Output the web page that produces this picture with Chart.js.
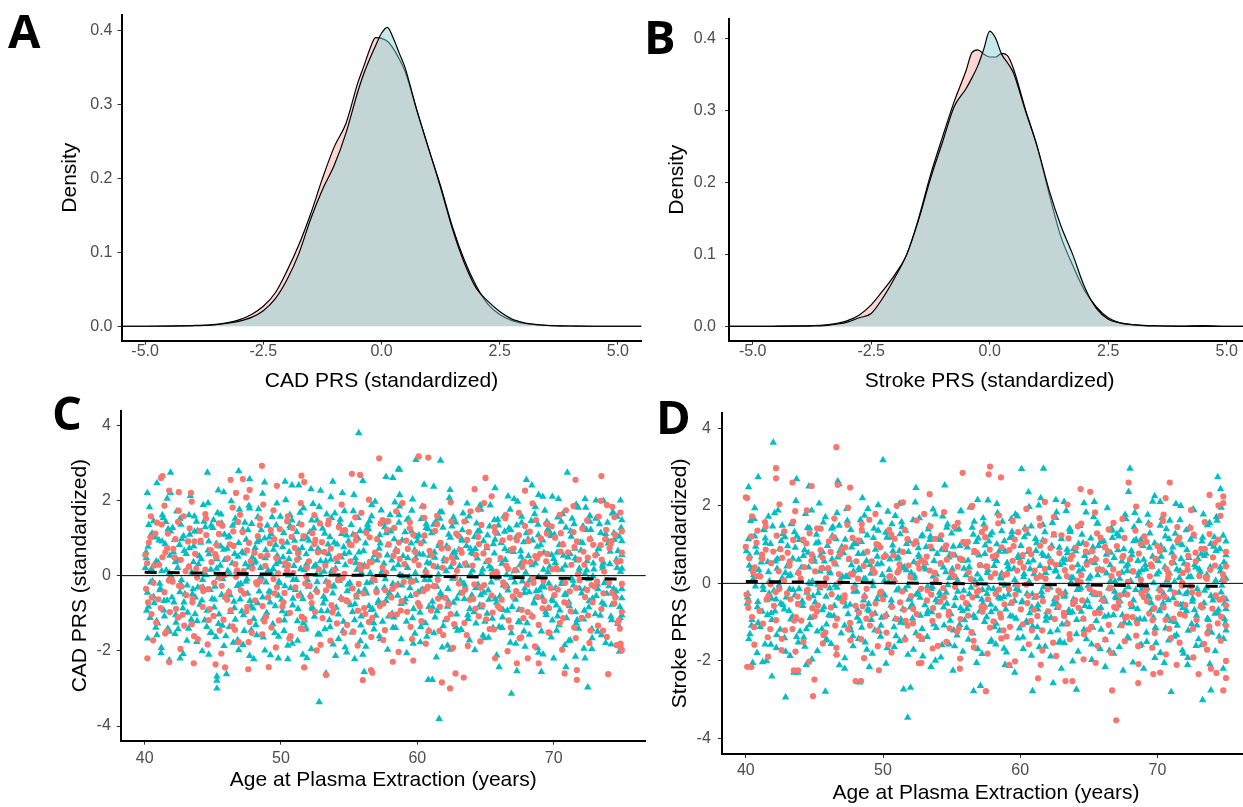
<!DOCTYPE html>
<html>
<head>
<meta charset="utf-8">
<title>PRS distributions and PRS by age</title>
<script src="https://cdn.jsdelivr.net/npm/chart.js@4.4.1/dist/chart.umd.min.js"></script>
<style>
  html, body { margin: 0; padding: 0; background: #fff; overflow: hidden; }
  body { width: 1243px; height: 807px; position: relative; }
  canvas { position: absolute; }
</style>
</head>
<body>
<canvas id="panel-a" width="650" height="395" style="left:0;top:0"></canvas>
<canvas id="panel-b" width="620" height="395" style="left:640px;top:0"></canvas>
<canvas id="panel-c" width="650" height="412" style="left:0;top:395px"></canvas>
<canvas id="panel-d" width="620" height="412" style="left:640px;top:395px"></canvas>
<script>
/* ============================================
   PRS distributions (A, B) and PRS vs age at plasma extraction (C, D)
   ============================================ */

const FONT = '"Liberation Sans", Arial, Helvetica, sans-serif';
const TICK_COLOR = '#4d4d4d';
const RED = '#F8766D';
const CYAN = '#00BFC4';

// --- Density curves (A, B): shared x grid, one density per group
const densX = [-5.5, -5, -4.5, -4, -3.75, -3.5, -3.25, -3, -2.75, -2.5, -2.25, -2, -1.75, -1.5, -1.25, -1, -0.75, -0.5, -0.375, -0.25, -0.125, 0, 0.125, 0.25, 0.375, 0.5, 0.75, 1, 1.25, 1.5, 1.75, 2, 2.25, 2.5, 2.75, 3, 3.25, 3.5, 3.75, 4, 4.5, 5, 5.5];
const cadCaseDens = [0, 0, 0.0003, 0.001, 0.0015, 0.0025, 0.005, 0.009, 0.016, 0.027, 0.045, 0.075, 0.11, 0.152, 0.2, 0.243, 0.275, 0.33, 0.352, 0.375, 0.391, 0.39, 0.386, 0.376, 0.362, 0.345, 0.292, 0.24, 0.19, 0.135, 0.09, 0.055, 0.03, 0.016, 0.008, 0.004, 0.002, 0.001, 0.0005, 0.0003, 0, 0, 0];
const cadCtrlDens = [0, 0, 0.0002, 0.0006, 0.001, 0.002, 0.004, 0.007, 0.012, 0.021, 0.037, 0.063, 0.098, 0.145, 0.185, 0.218, 0.262, 0.318, 0.342, 0.362, 0.38, 0.397, 0.405, 0.39, 0.37, 0.35, 0.292, 0.24, 0.188, 0.132, 0.086, 0.052, 0.034, 0.02, 0.01, 0.005, 0.0025, 0.0012, 0.0006, 0.0003, 0, 0, 0];
const strokeCaseDens = [0, 0, 0.0003, 0.0008, 0.0012, 0.002, 0.004, 0.008, 0.016, 0.03, 0.05, 0.072, 0.1, 0.15, 0.21, 0.262, 0.312, 0.355, 0.38, 0.384, 0.378, 0.374, 0.374, 0.379, 0.376, 0.358, 0.302, 0.25, 0.185, 0.125, 0.085, 0.05, 0.027, 0.012, 0.005, 0.0025, 0.0015, 0.001, 0.0006, 0.0005, 0.001, 0.0002, 0];
const strokeCtrlDens = [0, 0, 0.0001, 0.0003, 0.0006, 0.001, 0.003, 0.006, 0.012, 0.018, 0.04, 0.068, 0.1, 0.148, 0.205, 0.255, 0.305, 0.33, 0.345, 0.362, 0.385, 0.41, 0.4, 0.378, 0.366, 0.352, 0.3, 0.25, 0.19, 0.14, 0.1, 0.055, 0.025, 0.01, 0.005, 0.0025, 0.0012, 0.0006, 0.0003, 0.0001, 0, 0, 0];

// --- Linear trend of PRS on age (dashed line in C, D)
const trendAge = [40, 75];
const cadTrend = [0.09, -0.09];
const strokeTrend = [0.05, -0.08];

// --- Scatter points, stored as age, PRS, age, PRS, ...
const cadCtrlPts = [
  40.1,0.62, 40.2,-0.45, 40.3,1.35, 40.4,-1.12, 40.5,0.18, 40.7,-0.73, 40.8,1.02, 40.9,-1.58,
  41.0,0.35, 41.1,-0.21, 41.3,1.61, 41.4,-0.92, 41.5,0.84, 41.7,-1.41, 41.8,0.07, 41.9,1.18,
  42.0,-0.58, 42.2,0.95, 42.3,-1.25, 42.4,0.41, 42.6,1.52, 42.7,-0.12, 42.8,-0.87, 42.9,0.66,
  43.1,-1.73, 43.2,0.23, 43.3,1.09, 43.5,-0.49, 43.6,0.78, 43.7,-1.02, 43.8,1.44, 43.9,-0.31,
  44.0,0.52, 44.2,-0.66, 44.3,1.88, 44.4,-1.19, 44.5,0.02, 44.7,0.91, 44.8,-0.38, 44.9,-1.52,
  45.0,1.27, 45.1,-0.84, 45.3,0.44, 45.4,-0.05, 45.6,1.63, 45.7,-1.33, 45.8,0.69, 45.9,-0.57,
  46.1,0.13, 46.2,1.05, 46.3,-0.96, 46.5,-1.78, 46.6,0.58, 46.7,1.41, 46.8,-0.27, 46.9,0.87,
  47.0,-0.63, 47.2,1.22, 47.3,-1.47, 47.4,0.31, 47.5,-0.09, 47.7,1.79, 47.8,-0.81, 47.9,0.49,
  48.0,-1.15, 48.1,0.74, 48.3,1.56, 48.4,-0.42, 48.5,0.21, 48.7,-1.64, 48.8,0.99, 48.9,-0.18,
  49.0,1.33, 49.2,-0.71, 49.3,0.06, 49.4,-1.29, 49.6,0.82, 49.7,1.92, 49.8,-0.53, 49.9,0.37,
  50.1,-0.94, 50.2,1.14, 50.3,0.27, 50.5,-1.86, 50.6,0.63, 50.7,-0.33, 50.8,1.47, 50.9,-0.11,
  51.0,0.93, 51.2,-1.21, 51.3,0.48, 51.4,1.68, 51.6,-0.62, 51.7,0.15, 51.8,-1.43, 51.9,1.01,
  52.0,-0.29, 52.2,0.71, 52.3,-0.88, 52.4,1.26, 52.6,0.03, 52.7,-1.56, 52.8,1.83, 52.9,0.39,
  53.1,-0.74, 53.2,1.12, 53.3,-0.16, 53.5,0.57, 53.6,-1.37, 53.7,1.54, 53.8,-0.47, 53.9,0.88,
  54.0,0.19, 54.2,-1.03, 54.3,1.38, 54.4,-0.59, 54.6,0.76, 54.7,-1.91, 54.8,1.07, 54.9,-0.24,
  55.0,0.61, 55.1,-0.78, 55.3,1.72, 55.4,-1.18, 55.5,0.34, 55.7,-0.43, 55.8,1.19, 55.9,0.08,
  56.1,-1.51, 56.2,0.86, 56.3,-0.19, 56.5,1.45, 56.6,-0.91, 56.7,0.42, 56.8,-1.26, 56.9,1.97,
  57.0,-0.36, 57.2,0.72, 57.3,-1.69, 57.4,0.11, 57.6,1.29, 57.7,-0.67, 57.8,0.54, 57.9,-1.08,
  58.0,1.61, 58.2,-0.22, 58.3,0.97, 58.4,-1.39, 58.6,0.29, 58.7,1.84, 58.8,-0.75, 58.9,-0.02,
  59.1,1.16, 59.2,-1.22, 59.3,0.47, 59.5,-0.54, 59.6,1.73, 59.7,-1.81, 59.8,0.68, 59.9,-0.13,
  60.0,0.92, 60.2,-0.98, 60.3,1.51, 60.4,-0.37, 60.6,0.14, 60.7,-1.62, 60.8,1.24, 60.9,0.53,
  61.1,-0.69, 61.2,1.36, 61.3,-1.11, 61.5,0.22, 61.6,0.85, 61.7,-0.46, 61.8,1.69, 61.9,-1.34,
  62.0,0.38, 62.2,-0.82, 62.3,1.09, 62.4,-1.97, 62.6,0.59, 62.7,-0.07, 62.8,1.42, 62.9,-0.61,
  63.1,0.26, 63.2,-1.44, 63.3,1.21, 63.5,-0.28, 63.6,0.79, 63.7,-1.05, 63.8,1.58, 63.9,0.04,
  64.0,-0.52, 64.2,1.03, 64.3,-1.27, 64.4,0.46, 64.6,1.87, 64.7,-0.84, 64.8,0.17, 64.9,-1.66,
  65.1,0.73, 65.2,-0.39, 65.3,1.31, 65.5,-1.14, 65.6,0.09, 65.7,0.96, 65.8,-0.72, 65.9,1.49,
  66.0,-1.36, 66.2,0.32, 66.3,-0.26, 66.4,1.17, 66.6,-0.93, 66.7,0.65, 66.8,1.76, 66.9,-1.53,
  67.1,0.12, 67.2,-0.64, 67.3,1.34, 67.5,-1.24, 67.6,0.51, 67.7,-0.15, 67.8,0.89, 67.9,-1.89,
  68.0,1.13, 68.2,-0.44, 68.3,0.36, 68.4,-1.07, 68.6,1.64, 68.7,-0.58, 68.8,0.77, 68.9,-0.03,
  69.1,-1.48, 69.2,0.94, 69.3,-0.31, 69.5,1.43, 69.6,-0.86, 69.7,0.24, 69.8,1.06, 69.9,-1.19,
  70.0,0.45, 70.2,-0.79, 70.3,1.55, 70.4,-1.31, 70.6,0.16, 70.7,0.83, 70.8,-0.51, 70.9,1.28,
  71.1,-1.74, 71.2,0.58, 71.3,-0.08, 71.5,1.37, 71.6,-0.97, 71.7,0.41, 71.8,1.81, 71.9,-0.34,
  72.0,0.67, 72.2,-1.16, 72.3,0.05, 72.4,1.22, 72.6,-0.68, 72.7,0.98, 72.8,-1.42, 72.9,0.33,
  73.1,1.52, 73.2,-0.23, 73.3,0.71, 73.5,-1.58, 73.6,0.2, 73.7,-0.77, 73.8,1.11, 73.9,-0.48,
  74.0,0.86, 74.2,-1.09, 74.3,1.66, 74.4,-0.35, 74.6,0.43, 74.7,-1.28, 74.8,1.04, 74.9,0.1,
  75.0,-0.6, 75.0,1.48, 75.0,0.55, 75.0,-1.05,
  40.05,0.21, 40.15,-0.93, 40.25,0.77, 40.45,-0.18, 40.55,1.12, 40.65,-0.56, 40.85,0.38, 40.95,-1.27,
  41.05,0.94, 41.15,-0.34, 41.25,0.12, 41.45,-1.08, 41.55,1.43, 41.65,-0.66, 41.85,0.53, 41.95,-0.02,
  42.05,1.27, 42.15,-0.71, 42.25,0.36, 42.45,-1.42, 42.55,0.82, 42.65,-0.23, 42.85,1.05, 42.95,-0.49,
  43.05,0.58, 43.15,-0.98, 43.25,1.61, 43.45,0.09, 43.55,-0.36, 43.65,1.17, 43.85,-1.21, 43.95,0.31,
  44.05,-0.77, 44.15,0.44, 44.25,-0.11, 44.45,1.29, 44.55,-1.36, 44.65,0.67, 44.85,0.16, 44.95,-0.62,
  45.05,1.48, 45.15,-0.29, 45.25,0.85, 45.45,-1.03, 45.55,0.27, 45.65,-0.51, 45.85,1.09, 45.95,-1.61,
  46.05,0.72, 46.15,-0.43, 46.25,0.04, 46.45,1.33, 46.55,-0.69, 46.65,-1.17, 46.85,0.51, 46.95,1.76,
  47.05,-0.22, 47.15,0.63, 47.25,-1.05, 47.45,0.96, 47.55,-0.48, 47.65,0.22, 47.85,1.38, 47.95,-0.87,
  48.05,0.35, 48.15,-1.31, 48.25,0.89, 48.45,-0.07, 48.55,1.21, 48.65,-0.58, 48.85,0.47, 48.95,-0.99,
  49.05,0.14, 49.15,1.02, 49.25,-0.45, 49.45,0.69, 49.55,-1.52, 49.65,0.31, 49.85,-0.16, 49.95,1.57,
  50.05,-0.64, 50.15,0.49, 50.25,-1.19, 50.45,0.88, 50.55,0.01, 50.65,1.32, 50.85,-0.79, 50.95,0.26,
  51.05,-0.38, 51.15,1.16, 51.25,-0.88, 51.45,0.18, 51.55,0.74, 51.65,-1.27, 51.85,0.57, 51.95,-0.12,
  52.05,0.93, 52.15,-0.52, 52.25,1.47, 52.45,-1.09, 52.55,0.28, 52.65,-0.17, 52.85,0.64, 52.95,-0.94,
  53.05,1.25, 53.15,0.11, 53.25,-0.63, 53.45,0.83, 53.55,-1.18, 53.65,0.43, 53.85,-0.29, 53.95,1.66,
  54.05,-0.85, 54.15,0.37, 54.25,-0.04, 54.45,1.11, 54.55,-1.47, 54.65,0.58, 54.85,-0.41, 54.95,0.92,
  55.05,-0.19, 55.15,1.35, 55.25,-0.96, 55.45,0.47, 55.55,-0.58, 55.65,0.99, 55.85,-1.32, 55.95,0.24,
  56.05,0.66, 56.15,-0.37, 56.25,1.22, 56.45,-0.81, 56.55,0.07, 56.65,1.58, 56.85,-0.14, 56.95,-1.06,
  57.05,0.41, 57.15,-0.67, 57.25,1.08, 57.45,-1.22, 57.55,0.32, 57.65,-0.09, 57.85,0.81, 57.95,-0.46,
  58.05,1.18, 58.15,-1.01, 58.25,0.19, 58.45,0.63, 58.55,-0.53, 58.65,1.41, 58.85,-0.26, 58.95,0.52,
  59.05,-0.71, 59.15,0.28, 59.25,1.49, 59.45,-0.33, 59.55,0.86, 59.65,-1.13, 59.85,0.07, 59.95,1.04,
  60.05,-0.44, 60.15,0.57, 60.25,-1.36, 60.45,0.91, 60.55,-0.11, 60.65,1.27, 60.85,-0.83, 60.95,0.32,
  61.05,1.13, 61.15,-0.28, 61.25,0.62, 61.45,-0.94, 61.55,0.03, 61.65,1.52, 61.85,-0.57, 61.95,0.44,
  62.05,-1.18, 62.15,0.79, 62.25,-0.35, 62.45,0.23, 62.55,1.31, 62.65,-0.72, 62.85,0.48, 62.95,-1.46,
  63.05,0.69, 63.15,-0.13, 63.25,0.97, 63.45,-0.62, 63.55,1.46, 63.65,0.27, 63.85,-0.88, 63.95,0.61,
  64.05,0.14, 64.15,-0.97, 64.25,0.71, 64.45,-0.24, 64.55,1.19, 64.65,-0.51, 64.85,0.92, 64.95,-1.22,
  65.05,0.36, 65.15,1.07, 65.25,-0.64, 65.45,0.18, 65.55,-1.39, 65.65,0.59, 65.85,-0.07, 65.95,1.34,
  66.05,-0.55, 66.15,0.87, 66.25,-1.11, 66.45,0.42, 66.55,0.02, 66.65,-0.39, 66.85,1.21, 66.95,-0.83,
  67.05,0.63, 67.15,-0.18, 67.25,1.02, 67.45,-0.91, 67.55,0.29, 67.65,1.57, 67.85,-0.46, 67.95,0.08,
  68.05,-1.26, 68.15,0.52, 68.25,-0.12, 68.45,0.94, 68.55,-0.71, 68.65,0.33, 68.85,1.36, 68.95,-0.39,
  69.05,0.81, 69.15,-0.57, 69.25,0.16, 69.45,-1.04, 69.55,1.22, 69.65,-0.21, 69.85,0.55, 69.95,-0.68,
  70.05,1.09, 70.15,-0.33, 70.25,0.61, 70.45,-0.92, 70.55,1.44, 70.65,-0.14, 70.85,0.27, 70.95,-1.13,
  71.05,0.49, 71.15,-0.81, 71.25,1.18, 71.45,-0.26, 71.55,0.72, 71.65,-1.27, 71.85,0.11, 71.95,0.88,
  72.05,-0.47, 72.15,1.31, 72.25,-0.93, 72.45,0.39, 72.55,-0.09, 72.65,1.59, 72.85,-0.61, 72.95,0.17,
  73.05,-1.02, 73.15,0.58, 73.25,-0.36, 73.45,1.14, 73.55,-0.72, 73.65,0.35, 73.85,-0.15, 73.95,1.41,
  74.05,-0.28, 74.15,0.64, 74.25,-1.18, 74.45,0.96, 74.55,-0.54, 74.65,0.21, 74.85,-0.83, 74.95,1.27,
  75.0,0.19, 75.0,-0.35, 75.0,0.92,
  40.12,0.47, 40.28,-0.82, 40.42,1.06, 40.58,-0.15, 40.72,0.29, 40.88,-1.21,
  41.12,-0.38, 41.28,0.91, 41.42,-0.67, 41.58,0.14, 41.72,1.24, 41.88,-0.03,
  42.12,0.62, 42.28,-1.04, 42.42,0.21, 42.58,-0.44, 42.72,0.98, 42.88,-0.71,
  43.12,-0.26, 43.28,0.73, 43.42,-1.17, 43.58,0.36, 43.72,-0.58, 43.88,1.19,
  44.12,0.88, 44.28,-0.31, 44.42,0.05, 44.58,-0.93, 44.72,0.57, 44.88,1.33,
  45.12,-0.64, 45.28,0.19, 45.42,-1.28, 45.58,0.78, 45.72,-0.09, 45.88,0.42,
  46.12,1.02, 46.28,-0.52, 46.42,0.33, 46.58,-0.86, 46.72,0.11, 46.88,-0.24,
  47.12,-0.95, 47.28,0.59, 47.42,-0.16, 47.58,1.21, 47.72,-0.67, 47.88,0.26,
  48.12,0.39, 48.28,-0.73, 48.42,0.94, 48.58,-0.05, 48.72,-1.14, 48.88,0.68,
  49.12,-0.42, 49.28,1.11, 49.42,0.18, 49.58,-0.81, 49.72,0.53, 49.88,-0.19,
  50.12,0.76, 50.28,-0.28, 50.42,-1.02, 50.58,0.44, 50.72,1.27, 50.88,-0.61,
  51.12,-0.11, 51.28,0.67, 51.42,-0.49, 51.58,0.97, 51.72,-1.19, 51.88,0.31,
  52.12,1.16, 52.28,-0.83, 52.42,0.24, 52.58,-0.37, 52.72,0.71, 52.88,0.02,
  53.12,-0.56, 53.28,0.38, 53.42,-0.94, 53.58,1.03, 53.72,0.13, 53.88,-0.27,
  54.12,0.83, 54.28,-0.14, 54.42,0.49, 54.58,-1.22, 54.72,0.28, 54.88,-0.68,
  55.12,-0.35, 55.28,1.09, 55.42,-0.76, 55.58,0.16, 55.72,0.62, 55.88,-1.08,
  56.12,0.27, 56.28,-0.47, 56.42,1.24, 56.58,-0.18, 56.72,-0.89, 56.88,0.55,
  57.12,-0.73, 57.28,0.86, 57.42,0.09, 57.58,-0.32, 57.72,1.13, 57.88,-0.56,
  58.12,0.41, 58.28,-1.11, 58.42,0.69, 58.58,-0.23, 58.72,0.02, 58.88,0.94,
  59.12,-0.62, 59.28,0.21, 59.42,-0.04, 59.58,1.18, 59.72,-0.88, 59.88,0.47,
  60.12,1.07, 60.28,-0.39, 60.42,0.56, 60.58,-1.26, 60.72,0.35, 60.88,-0.12,
  61.12,-0.84, 61.28,0.48, 61.42,-0.29, 61.58,0.79, 61.72,-0.53, 61.88,1.28,
  62.12,0.12, 62.28,-0.69, 62.42,1.01, 62.58,-0.08, 62.72,0.63, 62.88,-1.03,
  63.12,-0.47, 63.28,0.93, 63.42,-0.21, 63.58,0.31, 63.72,-1.15, 63.88,0.72,
  64.12,0.58, 64.28,-0.33, 64.42,1.17, 64.58,-0.79, 64.72,0.07, 64.88,-0.45,
  65.12,-1.01, 65.28,0.25, 65.42,-0.18, 65.58,0.84, 65.72,-0.62, 65.88,1.12,
  66.12,0.43, 66.28,-0.91, 66.42,0.71, 66.58,-0.27, 66.72,1.26, 66.88,-0.06,
  67.12,-0.58, 67.28,0.14, 67.42,-1.23, 67.58,0.66, 67.72,0.38, 67.88,-0.34,
  68.12,0.97, 68.28,-0.12, 68.42,0.28, 68.58,-0.74, 68.72,-0.41, 68.88,1.08,
  69.12,-0.29, 69.28,0.61, 69.42,-0.97, 69.58,0.09, 69.72,1.15, 69.88,-0.63,
  70.12,0.34, 70.28,-1.08, 70.42,0.82, 70.58,-0.22, 70.72,0.53, 70.88,-0.49,
  71.12,-0.71, 71.28,1.04, 71.42,-0.13, 71.58,0.46, 71.72,-1.18, 71.88,0.19,
  72.12,0.87, 72.28,-0.36, 72.42,0.15, 72.58,-0.84, 72.72,1.22, 72.88,-0.02,
  73.12,-0.54, 73.28,0.72, 73.42,-1.06, 73.58,0.27, 73.72,-0.19, 73.88,0.98,
  74.12,0.31, 74.28,-0.77, 74.42,1.13, 74.58,-0.41, 74.72,0.66, 74.88,-1.12,
  40.35,1.82, 40.65,1.45, 40.22,-1.67, 40.82,-1.38, 41.35,1.53, 41.65,2.05, 41.22,-1.92, 41.82,-1.49,
  42.35,1.71, 42.65,1.36, 42.22,-1.55, 42.82,-2.08, 43.35,2.12, 43.65,1.58, 43.22,-1.41, 43.82,-1.76,
  44.35,1.44, 44.65,1.93, 44.22,-2.01, 44.82,-1.52, 45.35,1.67, 45.65,1.39, 45.22,-1.63, 45.82,-1.87,
  46.35,1.98, 46.65,1.52, 46.22,-1.36, 46.82,-1.71, 47.35,1.41, 47.65,1.86, 47.22,-1.84, 47.82,-1.45,
  48.35,1.77, 48.65,2.18, 48.22,-1.58, 48.82,-1.99, 49.35,1.56, 49.65,1.34, 49.22,-2.11, 49.82,-1.62,
  50.35,2.01, 50.65,1.62, 50.22,-1.47, 50.82,-1.81, 51.35,1.38, 51.65,1.79, 51.22,-1.73, 51.82,-1.39,
  52.35,1.91, 52.65,1.47, 52.22,-1.95, 52.82,-1.56, 53.35,1.63, 53.65,2.09, 53.22,-1.42, 53.82,-1.83,
  54.35,1.49, 54.65,1.72, 54.22,-1.68, 54.82,-2.04, 55.35,2.15, 55.65,1.54, 55.22,-1.51, 55.82,-1.74,
  56.35,1.36, 56.65,1.88, 56.22,-1.89, 56.82,-1.43, 57.35,1.74, 57.65,1.42, 57.22,-1.61, 57.82,-1.97,
  58.35,1.95, 58.65,1.61, 58.22,-1.38, 58.82,-1.69, 59.35,1.51, 59.65,2.03, 59.22,-2.06, 59.82,-1.54,
  60.35,1.84, 60.65,1.37, 60.22,-1.77, 60.82,-1.46, 61.35,1.43, 61.65,1.69, 61.22,-1.53, 61.82,-1.91,
  62.35,2.07, 62.65,1.55, 62.22,-1.86, 62.82,-1.37, 63.35,1.66, 63.65,1.92, 63.22,-1.44, 63.82,-1.72,
  64.35,1.39, 64.65,1.76, 64.22,-1.98, 64.82,-1.59, 65.35,1.87, 65.65,1.48, 65.22,-1.65, 65.82,-2.12,
  66.35,1.58, 66.65,2.11, 66.22,-1.39, 66.82,-1.78, 67.35,1.97, 67.65,1.41, 67.22,-1.81, 67.82,-1.48,
  68.35,1.46, 68.65,1.83, 68.22,-1.57, 68.82,-1.93, 69.35,1.73, 69.65,1.35, 69.22,-2.09, 69.82,-1.64,
  70.35,2.04, 70.65,1.64, 70.22,-1.46, 70.82,-1.85, 71.35,1.52, 71.65,1.89, 71.22,-1.72, 71.82,-1.41,
  72.35,1.81, 72.65,1.44, 72.22,-1.94, 72.82,-1.66, 73.35,1.37, 73.65,1.99, 73.22,-1.49, 73.82,-1.79,
  74.35,1.69, 74.65,1.57, 74.22,-1.83, 74.82,-2.02,
  55.7,3.79, 61.7,3.06, 59.9,3.08, 58.6,2.83, 58.7,2.82, 44.6,2.74, 41.9,2.74, 46.9,2.78,
  71.0,2.74, 68.0,2.55, 68.4,2.4, 57.7,2.63, 58.2,2.6, 40.9,2.46, 47.7,2.57, 50.3,2.5,
  50.8,2.4, 51.3,2.4, 56.0,2.52, 53.8,2.5, 40.2,2.2, 41.9,2.2, 45.4,2.27, 45.8,2.22,
  48.8,2.48, 52.2,2.3, 52.9,2.26, 54.5,2.2, 60.5,2.42, 61.2,2.37, 62.4,2.28, 58.7,2.15,
  65.7,2.33, 67.1,2.04, 68.9,2.15, 69.2,2.1, 69.9,2.1, 72.3,2.04, 73.1,2.0, 74.9,2.0,
  52.8,-3.36, 61.6,-3.81, 66.9,-3.14, 72.5,-2.97, 60.8,-2.77, 61.1,-2.77, 45.3,-3.0, 45.3,-2.79,
  45.3,-2.68, 46.0,-2.62, 53.3,-2.6, 66.0,-2.43, 67.3,-2.54, 69.1,-2.56, 70.9,-2.43, 41.2,-2.06,
  41.8,-2.25, 42.6,-2.2, 44.7,-2.1, 46.9,-1.98, 47.7,-2.13, 48.0,-2.22, 49.8,-2.2, 50.5,-2.22,
  51.6,-2.1, 51.9,-2.19, 54.0,-2.13, 55.4,-2.22, 56.0,-2.1, 56.1,-2.56, 61.4,-2.17, 68.9,-2.05,
  70.0,-2.2, 71.6,-2.15, 72.3,-2.2, 72.8,-1.95
];

const cadCasePts = [
  40.1,-0.35, 40.3,0.88, 40.5,-1.02, 40.7,0.27, 40.9,1.41,
  41.0,-0.63, 41.3,0.49, 41.5,-1.54, 41.7,1.12, 41.9,-0.08,
  42.1,0.71, 42.3,-0.88, 42.5,1.73, 42.7,-0.29, 42.9,-1.33,
  43.0,0.12, 43.3,1.26, 43.5,-0.71, 43.7,0.58, 43.9,-1.69,
  44.1,0.93, 44.3,-0.41, 44.5,1.52, 44.7,-1.18, 44.9,0.36,
  45.1,-0.19, 45.3,0.81, 45.5,-1.46, 45.7,1.33, 45.9,-0.57,
  46.1,0.46, 46.3,-0.92, 46.5,1.18, 46.7,-0.03, 46.9,-1.77,
  47.0,1.62, 47.3,-0.48, 47.5,0.67, 47.7,-1.23, 47.9,0.19,
  48.1,-0.66, 48.3,1.05, 48.5,-0.14, 48.7,1.89, 48.9,-1.09,
  49.0,0.54, 49.3,-1.38, 49.5,0.97, 49.7,-0.31, 49.9,1.24,
  50.1,-0.82, 50.3,0.33, 50.5,1.58, 50.7,-1.61, 50.9,0.07,
  51.0,0.74, 51.3,-0.53, 51.5,1.36, 51.7,-1.15, 51.9,0.21,
  52.1,-0.27, 52.3,1.13, 52.5,-0.96, 52.7,0.62, 52.9,-1.84,
  53.0,0.89, 53.3,-0.39, 53.5,1.47, 53.7,-0.78, 53.9,0.15,
  54.1,-1.27, 54.3,0.52, 54.5,-0.06, 54.7,1.21, 54.9,-0.69,
  55.1,0.38, 55.3,-1.49, 55.5,0.94, 55.7,-0.22, 55.9,1.67,
  56.1,-0.86, 56.3,0.25, 56.5,1.02, 56.7,-1.12, 56.9,0.61,
  57.0,-0.44, 57.3,1.39, 57.5,-1.71, 57.7,0.08, 57.9,0.83,
  58.1,-0.58, 58.3,1.27, 58.5,-1.03, 58.7,0.44, 58.9,1.93,
  59.0,-0.17, 59.3,0.71, 59.5,-1.36, 59.7,1.09, 59.9,-0.49,
  60.1,0.28, 60.3,-1.21, 60.5,1.54, 60.7,-0.34, 60.9,0.66,
  61.0,-0.93, 61.3,1.19, 61.5,-0.11, 61.7,0.87, 61.9,-1.58,
  62.1,0.42, 62.3,-0.76, 62.5,1.44, 62.7,-1.29, 62.9,0.13,
  63.0,1.06, 63.3,-0.45, 63.5,0.32, 63.7,-1.87, 63.9,1.71,
  64.1,-0.62, 64.3,0.55, 64.5,-1.08, 64.7,1.35, 64.9,-0.25,
  65.1,0.78, 65.3,-1.42, 65.5,0.04, 65.7,1.16, 65.9,-0.81,
  66.1,0.47, 66.3,-0.18, 66.5,1.61, 66.7,-1.19, 66.9,0.69,
  67.0,-0.55, 67.3,0.94, 67.5,-1.67, 67.7,0.23, 67.9,1.32,
  68.1,-0.97, 68.3,0.36, 68.5,-0.08, 68.7,1.48, 68.9,-1.31,
  69.0,0.58, 69.3,-0.68, 69.5,1.12, 69.7,-1.52, 69.9,0.17,
  70.1,1.01, 70.3,-0.37, 70.5,0.64, 70.7,-1.13, 70.9,1.74,
  71.0,-0.74, 71.3,0.29, 71.5,-1.38, 71.7,0.91, 71.9,-0.12,
  72.1,1.25, 72.3,-0.57, 72.5,0.48, 72.7,-1.46, 72.9,0.82,
  73.0,-0.29, 73.3,1.57, 73.5,-0.89, 73.7,0.11, 73.9,-1.63,
  74.1,0.73, 74.3,-0.46, 74.5,1.09, 74.7,-1.24, 74.9,0.39,
  75.0,-0.96, 75.0,0.61,
  40.05,0.55, 40.25,-0.71, 40.45,1.02, 40.65,-0.19, 40.85,-1.25,
  41.05,0.29, 41.25,1.36, 41.45,-0.44, 41.65,0.73, 41.85,-0.97,
  42.05,-0.16, 42.25,0.97, 42.45,-1.11, 42.65,0.42, 42.85,1.58,
  43.05,-0.52, 43.25,0.24, 43.45,-1.29, 43.65,0.91, 43.85,-0.05,
  44.05,1.19, 44.25,-0.83, 44.45,0.16, 44.65,-0.36, 44.85,0.68,
  45.05,-1.07, 45.25,0.49, 45.45,1.11, 45.65,-0.27, 45.85,0.02,
  46.05,-0.64, 46.25,0.83, 46.45,-1.35, 46.65,0.31, 46.85,1.43,
  47.05,-0.39, 47.25,0.12, 47.45,-0.95, 47.65,0.87, 47.85,-1.52,
  48.05,0.61, 48.25,-0.23, 48.45,1.34, 48.65,-0.81, 48.85,0.26,
  49.05,-0.58, 49.25,1.21, 49.45,-0.09, 49.65,0.47, 49.85,-1.19,
  50.05,0.91, 50.25,-0.46, 50.45,0.14, 50.65,-0.99, 50.85,1.27,
  51.05,-0.31, 51.25,0.59, 51.45,-1.41, 51.65,1.05, 51.85,-0.02,
  52.05,0.38, 52.25,-0.73, 52.45,0.84, 52.65,-0.43, 52.85,1.39,
  53.05,-1.13, 53.25,0.27, 53.45,-0.18, 53.65,0.72, 53.85,-0.89,
  54.05,0.46, 54.25,1.29, 54.45,-0.62, 54.65,0.05, 54.85,-1.31,
  55.05,0.83, 55.25,-0.34, 55.45,1.08, 55.65,-0.93, 55.85,0.17,
  56.05,-0.47, 56.25,1.14, 56.45,-1.23, 56.65,0.36, 56.85,-0.12,
  57.05,0.97, 57.25,-0.81, 57.45,0.22, 57.65,-0.39, 57.85,1.45,
  58.05,-1.04, 58.25,0.53, 58.45,-0.26, 58.65,0.88, 58.85,-0.68,
  59.05,0.31, 59.25,-0.96, 59.45,1.26, 59.65,-0.15, 59.85,0.63,
  60.05,-0.73, 60.25,0.86, 60.45,-0.41, 60.65,0.09, 60.85,-1.47,
  61.05,0.54, 61.25,-0.28, 61.45,1.37, 61.65,-0.83, 61.85,0.21,
  62.05,-0.59, 62.25,0.73, 62.45,-1.02, 62.65,0.34, 62.85,1.12,
  63.05,-0.21, 63.25,0.61, 63.45,-1.26, 63.65,0.95, 63.85,-0.64,
  64.05,0.27, 64.25,-0.88, 64.45,1.03, 64.65,-0.32, 64.85,0.59,
  65.05,-1.16, 65.25,0.41, 65.45,-0.53, 65.65,1.29, 65.85,0.06,
  66.05,-0.87, 66.25,0.94, 66.45,-0.29, 66.65,0.18, 66.85,-1.38,
  67.05,0.72, 67.25,-0.41, 67.45,1.08, 67.65,-0.91, 67.85,0.37,
  68.05,-0.24, 68.25,1.17, 68.45,-1.09, 68.65,0.52, 68.85,-0.57,
  69.05,0.99, 69.25,-0.14, 69.45,0.38, 69.65,-0.86, 69.85,1.31,
  70.05,-0.52, 70.25,0.17, 70.45,-1.26, 70.65,0.83, 70.85,-0.19,
  71.05,0.62, 71.25,-0.95, 71.45,1.16, 71.65,-0.33, 71.85,0.43,
  72.05,-1.12, 72.25,0.29, 72.45,-0.38, 72.65,0.97, 72.85,-0.71,
  73.05,0.54, 73.25,-1.33, 73.45,0.81, 73.65,-0.47, 73.85,1.22,
  74.05,-0.18, 74.25,0.92, 74.45,-0.74, 74.65,0.36, 74.85,-1.41,
  75.0,1.18, 75.0,-0.22,
  40.18,0.33, 40.52,-0.58, 40.78,1.12, 41.18,-0.86, 41.52,0.62, 41.78,-0.13,
  42.18,0.48, 42.52,-0.27, 42.78,-1.04, 43.18,0.91, 43.52,-0.62, 43.78,0.19,
  44.18,-0.31, 44.52,1.08, 44.78,-0.89, 45.18,0.57, 45.52,-0.06, 45.78,-1.17,
  46.18,-0.44, 46.52,0.79, 46.78,0.14, 47.18,1.16, 47.52,-0.83, 47.78,0.38,
  48.18,-0.18, 48.52,0.52, 48.78,-1.22, 49.18,0.86, 49.52,-0.47, 49.78,0.06,
  50.18,-0.71, 50.52,0.28, 50.78,1.03, 51.18,0.42, 51.52,-1.09, 51.78,-0.21,
  52.18,-0.56, 52.52,0.95, 52.78,0.17, 53.18,0.63, 53.52,-0.26, 53.78,-0.98,
  54.18,-0.12, 54.52,1.19, 54.78,-0.66, 55.18,0.81, 55.52,-0.53, 55.78,0.29,
  56.18,-1.02, 56.52,0.37, 56.78,-0.08, 57.18,0.54, 57.52,-0.74, 57.78,1.22,
  58.18,-0.35, 58.52,0.66, 58.78,-0.93, 59.18,0.93, 59.52,-0.16, 59.78,0.41,
  60.18,-0.82, 60.52,1.07, 60.78,-0.29, 61.18,0.26, 61.52,-0.61, 61.78,0.72,
  62.18,-1.14, 62.52,0.49, 62.78,-0.04, 63.18,0.68, 63.52,-0.37, 63.78,1.16,
  64.18,-0.23, 64.52,0.84, 64.78,-0.79, 65.18,0.39, 65.52,-0.98, 65.78,0.11,
  66.18,-0.64, 66.52,0.27, 66.78,1.01, 67.18,0.15, 67.52,-0.51, 67.78,-1.13,
  68.18,0.92, 68.52,-0.19, 68.78,0.46, 69.18,-0.87, 69.52,0.58, 69.78,-0.33,
  70.18,0.21, 70.52,1.13, 70.78,-0.71, 71.18,-0.42, 71.52,0.76, 71.78,0.03,
  72.18,0.64, 72.52,-1.06, 72.78,-0.25, 73.18,-0.16, 73.52,0.43, 73.78,0.97,
  74.18,0.85, 74.52,-0.58, 74.78,-1.19,
  40.45,1.58, 40.62,-1.72, 41.45,1.86, 41.62,-1.48, 42.45,1.43, 42.62,-1.95, 43.45,1.97, 43.62,-1.61,
  44.45,1.64, 44.62,-1.83, 45.45,1.39, 45.62,-2.07, 46.45,1.81, 46.62,-1.44, 47.45,2.08, 47.62,-1.77,
  48.45,1.52, 48.62,-1.56, 49.45,1.74, 49.62,-1.91, 50.45,1.45, 50.62,-1.67, 51.45,1.93, 51.62,-1.42,
  52.45,1.61, 52.62,-1.99, 53.45,1.37, 53.62,-1.73, 54.45,1.89, 54.62,-1.52, 55.45,1.55, 55.62,-1.86,
  56.45,2.02, 56.62,-1.63, 57.45,1.48, 57.62,-1.45, 58.45,1.71, 58.62,-2.03, 59.45,1.42, 59.62,-1.69,
  60.45,1.84, 60.62,-1.81, 61.45,1.59, 61.62,-1.47, 62.45,1.95, 62.62,-1.92, 63.45,1.44, 63.62,-1.58,
  64.45,1.76, 64.62,-1.75, 65.45,2.11, 65.62,-1.43, 66.45,1.53, 66.62,-2.01, 67.45,1.67, 67.62,-1.64,
  68.45,1.92, 68.62,-1.88, 69.45,1.38, 69.62,-1.51, 70.45,1.62, 70.62,-1.97, 71.45,1.85, 71.62,-1.66,
  72.45,1.47, 72.62,-1.79, 73.45,1.99, 73.62,-1.46, 74.45,1.56, 74.62,-1.85,
  60.1,3.17, 60.8,3.14, 57.2,3.12, 48.6,2.92, 55.2,2.71, 55.8,2.68, 41.3,2.65, 41.2,2.6,
  71.6,2.55, 73.5,2.65, 65.0,2.6, 51.5,2.66, 51.7,2.49, 46.3,2.55, 47.2,2.57, 47.7,2.28,
  49.7,2.39, 46.7,2.2, 43.4,2.2, 42.5,2.22, 41.8,2.26, 64.2,2.3, 64.9,1.93, 67.9,2.26,
  73.9,1.88, 74.3,1.83, 74.9,1.68,
  40.2,-2.2, 41.8,-2.3, 43.6,-2.33, 45.2,-2.36, 45.9,-2.44, 47.6,-2.49, 49.1,-2.43, 51.7,-2.44,
  53.3,-2.64, 56.0,-2.78, 56.6,-2.51, 56.7,-2.58, 58.2,-2.29, 59.7,-2.26, 62.4,-3.0, 61.8,-2.84,
  62.8,-2.6, 63.4,-2.71, 71.7,-2.77, 74.0,-2.62, 70.8,-2.6, 71.7,-2.51, 65.7,-2.2, 67.3,-2.33,
  68.1,-2.2, 68.9,-2.33, 74.9,-1.9, 74.9,-1.81, 75.0,-1.98
];

const strokeCtrlPts = [
  40.1,-0.52, 40.2,1.14, 40.3,-1.31, 40.4,0.37, 40.6,1.66, 40.7,-0.08, 40.8,0.79, 40.9,-1.02,
  41.0,0.21, 41.2,-0.73, 41.3,1.38, 41.4,-1.57, 41.6,0.55, 41.7,-0.26, 41.8,1.02, 41.9,-0.94,
  42.1,1.81, 42.2,-0.41, 42.3,0.63, 42.5,-1.19, 42.6,0.09, 42.7,1.27, 42.8,-0.67, 42.9,-1.76,
  43.0,0.44, 43.2,-0.15, 43.3,1.53, 43.4,-0.86, 43.6,0.92, 43.7,-1.38, 43.8,0.28, 43.9,1.12,
  44.1,-0.47, 44.2,0.71, 44.3,-1.63, 44.5,1.43, 44.6,0.02, 44.7,-0.89, 44.8,1.88, 44.9,-0.33,
  45.0,0.56, 45.2,-1.24, 45.3,1.06, 45.4,-0.12, 45.6,0.81, 45.7,-0.61, 45.8,1.71, 45.9,-1.45,
  46.1,0.31, 46.2,-0.84, 46.3,1.22, 46.5,-0.05, 46.6,-1.82, 46.7,0.67, 46.8,1.49, 46.9,-0.39,
  47.0,0.94, 47.2,-1.09, 47.3,0.18, 47.4,1.61, 47.6,-0.55, 47.7,0.47, 47.8,-1.36, 47.9,1.03,
  48.1,-0.21, 48.2,0.76, 48.3,-0.98, 48.5,1.34, 48.6,0.11, 48.7,-1.52, 48.8,0.58, 48.9,1.92,
  49.0,-0.71, 49.2,0.26, 49.3,1.17, 49.4,-1.21, 49.6,0.49, 49.7,-0.31, 49.8,1.57, 49.9,-0.88,
  50.1,0.07, 50.2,1.31, 50.3,-1.67, 50.5,0.62, 50.6,-0.44, 50.7,0.98, 50.8,-1.13, 50.9,1.74,
  51.0,-0.18, 51.2,0.84, 51.3,-0.93, 51.4,1.46, 51.6,-1.41, 51.7,0.34, 51.8,-0.07, 51.9,1.09,
  52.0,-0.62, 52.2,1.63, 52.3,0.19, 52.4,-1.28, 52.6,0.73, 52.7,-0.37, 52.8,1.21, 52.9,-1.88,
  53.1,0.52, 53.2,-0.79, 53.3,1.39, 53.5,-0.14, 53.6,0.88, 53.7,-1.06, 53.8,1.78, 53.9,0.23,
  54.0,-0.49, 54.2,1.12, 54.3,-1.59, 54.4,0.41, 54.6,-0.24, 54.7,1.52, 54.8,0.67, 54.9,-0.96,
  55.0,1.29, 55.2,-0.58, 55.3,0.15, 55.4,-1.34, 55.6,0.97, 55.7,1.86, 55.8,-0.71, 55.9,0.38,
  56.1,-1.15, 56.2,0.59, 56.3,-0.28, 56.5,1.44, 56.6,-0.83, 56.7,0.06, 56.8,1.07, 56.9,-1.69,
  57.0,0.72, 57.2,-0.42, 57.3,1.68, 57.4,-0.99, 57.6,0.27, 57.7,-0.13, 57.8,1.24, 57.9,-1.47,
  58.1,0.45, 58.2,-0.66, 58.3,1.01, 58.5,-1.22, 58.6,0.13, 58.7,1.59, 58.8,-0.35, 58.9,0.82,
  59.0,-1.78, 59.2,0.36, 59.3,-0.52, 59.4,1.33, 59.6,0.09, 59.7,-0.91, 59.8,1.73, 59.9,-0.19,
  60.1,0.68, 60.2,-1.39, 60.3,1.19, 60.5,-0.27, 60.6,0.54, 60.7,-0.77, 60.8,1.47, 60.9,-1.11,
  61.0,0.24, 61.2,1.04, 61.3,-0.56, 61.4,-1.64, 61.6,0.77, 61.7,-0.09, 61.8,1.32, 61.9,-0.85,
  62.1,0.39, 62.2,-1.26, 62.3,0.96, 62.5,-0.41, 62.6,1.69, 62.7,-0.63, 62.8,0.17, 62.9,-1.49,
  63.0,1.15, 63.2,-0.34, 63.3,0.61, 63.4,-1.02, 63.6,1.41, 63.7,0.03, 63.8,-0.74, 63.9,0.89,
  64.1,-1.31, 64.2,0.47, 64.3,-0.16, 64.5,1.26, 64.6,-0.92, 64.7,0.71, 64.8,1.83, 64.9,-0.45,
  65.0,0.12, 65.2,-1.57, 65.3,0.93, 65.4,-0.29, 65.6,1.54, 65.7,-0.68, 65.8,0.36, 65.9,-1.19,
  66.1,1.08, 66.2,-0.47, 66.3,0.26, 66.5,-1.73, 66.6,0.79, 66.7,1.36, 66.8,-0.82, 66.9,0.05,
  67.0,-0.38, 67.2,1.21, 67.3,-1.09, 67.4,0.57, 67.6,-0.21, 67.7,1.66, 67.8,0.32, 67.9,-1.42,
  68.1,0.84, 68.2,-0.59, 68.3,1.45, 68.5,-0.95, 68.6,0.19, 68.7,-1.61, 68.8,1.12, 68.9,-0.07,
  69.0,0.61, 69.2,-1.27, 69.3,1.77, 69.4,-0.36, 69.6,0.43, 69.7,-0.88, 69.8,1.03, 69.9,-1.54,
  70.1,0.29, 70.2,1.49, 70.3,-0.64, 70.5,0.86, 70.6,-1.16, 70.7,0.08, 70.8,-0.43, 70.9,1.62,
  71.0,-0.97, 71.2,0.53, 71.3,1.28, 71.4,-1.33, 71.6,0.14, 71.7,-0.55, 71.8,0.99, 71.9,-1.81,
  72.1,1.37, 72.2,-0.23, 72.3,0.66, 72.5,-1.05, 72.6,1.91, 72.7,-0.69, 72.8,0.41, 72.9,-0.14,
  73.0,-1.44, 73.2,0.76, 73.3,1.18, 73.4,-0.51, 73.6,0.22, 73.7,-1.22, 73.8,1.56, 73.9,-0.32,
  74.1,0.95, 74.2,-0.78, 74.3,1.71, 74.5,-1.37, 74.6,0.31, 74.7,-0.06, 74.8,1.23, 74.9,-0.92,
  75.0,0.48, 75.0,-0.41, 75.0,1.08, 75.0,-1.21,
  40.05,0.83, 40.15,-0.27, 40.25,0.46, 40.45,-0.94, 40.55,0.12, 40.65,1.21, 40.85,-0.61, 40.95,0.34,
  41.05,-1.12, 41.15,0.68, 41.25,-0.08, 41.45,1.04, 41.55,-0.43, 41.65,0.29, 41.85,-0.77, 41.95,1.47,
  42.05,-0.19, 42.15,0.57, 42.25,-1.33, 42.45,0.88, 42.55,-0.52, 42.65,0.13, 42.85,1.19, 42.95,-0.36,
  43.05,0.96, 43.15,-0.71, 43.25,0.22, 43.45,-0.17, 43.55,1.32, 43.65,-0.92, 43.85,0.61, 43.95,-1.24,
  44.05,0.41, 44.15,-0.58, 44.25,1.09, 44.45,-0.24, 44.55,0.79, 44.65,-1.07, 44.85,0.05, 44.95,0.63,
  45.05,-0.49, 45.15,1.26, 45.25,-0.03, 45.45,0.72, 45.55,-1.18, 45.65,0.38, 45.85,-0.34, 45.95,0.97,
  46.05,-0.82, 46.15,0.26, 46.25,1.41, 46.45,-0.58, 46.55,0.49, 46.65,-0.11, 46.85,0.84, 46.95,-1.29,
  47.05,0.17, 47.15,-0.46, 47.25,1.13, 47.45,-0.79, 47.55,0.62, 47.65,-1.21, 47.85,0.31, 47.95,-0.05,
  48.05,1.02, 48.15,-0.68, 48.25,0.39, 48.45,-1.14, 48.55,0.77, 48.65,-0.32, 48.85,1.24, 48.95,-0.53,
  49.05,0.48, 49.15,-0.94, 49.25,0.03, 49.45,0.87, 49.55,-0.41, 49.65,1.36, 49.85,-1.09, 49.95,0.22,
  50.05,-0.29, 50.15,0.73, 50.25,-0.81, 50.45,0.35, 50.55,1.18, 50.65,-0.57, 50.85,0.09, 50.95,-1.36,
  51.05,0.64, 51.15,-0.15, 51.25,1.27, 51.45,-0.66, 51.55,0.42, 51.65,-1.02, 51.85,0.81, 51.95,-0.39,
  52.05,0.27, 52.15,-0.91, 52.25,0.55, 52.45,1.06, 52.55,-0.24, 52.65,0.68, 52.85,-1.17, 52.95,0.41,
  53.05,-0.56, 53.15,0.94, 53.25,-0.08, 53.45,1.21, 53.55,-0.74, 53.65,0.18, 53.85,-0.43, 53.95,0.76,
  54.05,1.14, 54.15,-0.33, 54.25,0.49, 54.45,-1.08, 54.55,0.86, 54.65,-0.52, 54.85,0.14, 54.95,-0.79,
  55.05,0.37, 55.15,-1.21, 55.25,0.72, 55.45,-0.21, 55.55,1.39, 55.65,-0.64, 55.85,0.58, 55.95,-0.95,
  56.05,0.21, 56.15,0.93, 56.25,-0.56, 56.45,0.11, 56.55,-1.29, 56.65,0.79, 56.85,-0.33, 56.95,1.16,
  57.05,-0.72, 57.15,0.46, 57.25,-0.17, 57.45,0.98, 57.55,-0.87, 57.65,0.34, 57.85,-0.55, 57.95,1.31,
  58.05,-0.14, 58.15,0.63, 58.25,-1.04, 58.45,0.82, 58.55,-0.39, 58.65,0.25, 58.85,1.09, 58.95,-0.67,
  59.05,0.53, 59.15,-0.29, 59.25,1.17, 59.45,-0.86, 59.55,0.38, 59.65,-0.03, 59.85,0.71, 59.95,-1.16,
  60.05,0.97, 60.15,-0.46, 60.25,0.16, 60.45,-0.98, 60.55,1.28, 60.65,0.04, 60.85,-0.62, 60.95,0.59,
  61.05,-0.37, 61.15,0.84, 61.25,-1.13, 61.45,0.45, 61.55,-0.22, 61.65,1.11, 61.85,0.27, 61.95,-0.74,
  62.05,0.69, 62.15,-0.11, 62.25,-0.89, 62.45,1.24, 62.55,0.31, 62.65,-0.49, 62.85,0.92, 62.95,-0.26,
  63.05,-1.06, 63.15,0.52, 63.25,-0.31, 63.45,0.78, 63.55,-0.69, 63.65,1.33, 63.85,0.14, 63.95,-0.48,
  64.05,0.83, 64.15,-0.17, 64.25,1.02, 64.45,-0.73, 64.55,0.36, 64.65,-1.19, 64.85,0.57, 64.95,-0.06,
  65.05,-0.61, 65.15,1.16, 65.25,-0.25, 65.45,0.64, 65.55,-0.97, 65.65,0.21, 65.85,1.07, 65.95,-0.42,
  66.05,0.33, 66.15,-0.86, 66.25,0.91, 66.45,-0.13, 66.55,0.47, 66.65,-1.26, 66.85,0.66, 66.95,-0.35,
  67.05,1.27, 67.15,-0.57, 67.25,0.12, 67.45,-0.82, 67.55,0.88, 67.65,-0.29, 67.85,0.49, 67.95,-1.03,
  68.05,0.06, 68.15,0.73, 68.25,-0.44, 68.45,1.12, 68.55,-0.66, 68.65,0.28, 68.85,-0.18, 68.95,0.97,
  69.05,-0.93, 69.15,0.37, 69.25,-0.12, 69.45,1.29, 69.55,-0.51, 69.65,0.69, 69.85,-1.14, 69.95,0.23,
  70.05,0.58, 70.15,-0.71, 70.25,0.96, 70.45,-0.27, 70.55,0.42, 70.65,-0.89, 70.85,1.14, 70.95,-0.16,
  71.05,0.79, 71.15,-0.38, 71.25,0.04, 71.45,-1.09, 71.55,1.03, 71.65,0.32, 71.85,-0.64, 71.95,0.51,
  72.05,-0.28, 72.15,0.86, 72.25,-1.22, 72.45,0.17, 72.55,-0.47, 72.65,1.21, 72.85,-0.83, 72.95,0.63,
  73.05,0.36, 73.15,-0.59, 73.25,1.08, 73.45,-0.19, 73.55,0.77, 73.65,-0.91, 73.85,0.42, 73.95,-1.27,
  74.05,-0.44, 74.15,1.19, 74.25,0.07, 74.45,-0.68, 74.55,0.89, 74.65,-0.23, 74.85,0.54, 74.95,-1.03,
  75.0,0.73, 75.0,-0.66, 75.0,0.12,
  40.12,-0.36, 40.28,0.71, 40.42,-1.09, 40.58,0.22, 40.72,0.95, 40.88,-0.48,
  41.12,0.54, 41.28,-0.17, 41.42,1.16, 41.58,-0.81, 41.72,0.06, 41.88,-0.39,
  42.12,-0.72, 42.28,0.38, 42.42,-0.05, 42.58,1.09, 42.72,-0.56, 42.88,0.27,
  43.12,0.19, 43.28,-0.93, 43.42,0.64, 43.58,-0.31, 43.72,1.21, 43.88,-0.14,
  44.12,-0.47, 44.28,0.86, 44.42,-1.18, 44.58,0.41, 44.72,-0.02, 44.88,0.73,
  45.12,1.03, 45.28,-0.25, 45.42,0.31, 45.58,-0.69, 45.72,0.57, 45.88,-1.06,
  46.12,-0.13, 46.28,0.62, 46.42,-0.84, 46.58,1.14, 46.72,-0.37, 46.88,0.09,
  47.12,0.78, 47.28,-0.59, 47.42,0.17, 47.58,-1.12, 47.72,0.93, 47.88,-0.21,
  48.12,-0.88, 48.28,0.34, 48.42,1.07, 48.58,-0.44, 48.72,0.12, 48.88,-0.67,
  49.12,0.26, 49.28,-0.07, 49.42,-0.78, 49.58,0.69, 49.72,-1.23, 49.88,0.51,
  50.12,-0.31, 50.28,1.18, 50.42,0.04, 50.58,-0.57, 50.72,0.83, 50.88,-0.92,
  51.12,0.67, 51.28,-1.01, 51.42,0.39, 51.58,-0.16, 51.72,1.02, 51.88,-0.42,
  52.12,-0.55, 52.28,0.13, 52.42,-0.29, 52.58,0.91, 52.72,-0.83, 52.88,1.24,
  53.12,0.36, 53.28,-0.71, 53.42,1.12, 53.58,-0.09, 53.72,0.58, 53.88,-1.15,
  54.12,-0.24, 54.28,0.87, 54.42,-0.62, 54.58,0.29, 54.72,-0.04, 54.88,0.74,
  55.12,0.95, 55.28,-0.38, 55.42,0.07, 55.58,-1.07, 55.72,0.61, 55.88,-0.19,
  56.12,-0.66, 56.28,0.42, 56.42,-0.11, 56.58,1.26, 56.72,-0.89, 56.88,0.23,
  57.12,0.11, 57.28,-0.52, 57.42,0.76, 57.58,-0.27, 57.72,1.08, 57.88,-0.74,
  58.12,-1.13, 58.28,0.58, 58.42,-0.36, 58.58,0.17, 58.72,0.89, 58.88,-0.06,
  59.12,0.43, 59.28,-0.84, 59.42,1.21, 59.58,-0.45, 59.72,-0.14, 59.88,0.66,
  60.12,-0.49, 60.28,0.24, 60.42,-1.02, 60.58,0.81, 60.72,0.37, 60.88,-0.28,
  61.12,1.15, 61.28,-0.67, 61.42,0.19, 61.58,-0.33, 61.72,0.71, 61.88,-0.96,
  62.12,-0.08, 62.28,0.96, 62.42,-0.54, 62.58,0.35, 62.72,-1.21, 62.88,0.48,
  63.12,0.62, 63.28,-0.23, 63.42,0.87, 63.58,-0.76, 63.72,0.14, 63.88,-0.41,
  64.12,-0.94, 64.28,0.31, 64.42,-0.12, 64.58,1.04, 64.72,-0.58, 64.88,0.79,
  65.12,0.18, 65.28,-1.14, 65.42,0.53, 65.58,-0.29, 65.72,0.97, 65.88,-0.63,
  66.12,-0.39, 66.28,0.74, 66.42,-0.83, 66.58,0.06, 66.72,1.17, 66.88,-0.21,
  67.12,0.86, 67.28,-0.46, 67.42,0.28, 67.58,-1.01, 67.72,0.44, 67.88,-0.09,
  68.12,-0.61, 68.28,1.09, 68.42,-0.17, 68.58,0.58, 68.72,-0.92, 68.88,0.34,
  69.12,0.47, 69.28,-0.33, 69.42,0.92, 69.58,-0.68, 69.72,0.01, 69.88,-1.16,
  70.12,-0.14, 70.28,0.69, 70.42,-0.51, 70.58,1.21, 70.72,-0.86, 70.88,0.26,
  71.12,0.93, 71.28,-0.99, 71.42,0.36, 71.58,-0.24, 71.72,0.63, 71.88,-0.55,
  72.12,-0.71, 72.28,0.16, 72.42,1.13, 72.58,-0.39, 72.72,0.48, 72.88,-1.08,
  73.12,0.29, 73.28,-0.58, 73.42,0.71, 73.58,-0.11, 73.72,-0.94, 73.88,1.02,
  74.12,-0.36, 74.28,0.84, 74.42,-0.77, 74.58,0.41, 74.72,0.09, 74.88,-0.52,
  40.35,1.61, 40.65,1.94, 40.22,-1.44, 40.82,-1.79, 41.35,1.37, 41.65,1.72, 41.22,-2.03, 41.82,-1.58,
  42.35,1.88, 42.65,1.49, 42.22,-1.66, 42.82,-1.41, 43.35,1.54, 43.65,2.13, 43.22,-1.87, 43.82,-1.52,
  44.35,1.79, 44.65,1.42, 44.22,-1.39, 44.82,-1.96, 45.35,2.06, 45.65,1.57, 45.22,-1.74, 45.82,-1.47,
  46.35,1.45, 46.65,1.81, 46.22,-1.56, 46.82,-2.11, 47.35,1.92, 47.65,1.38, 47.22,-1.93, 47.82,-1.62,
  48.35,1.63, 48.65,1.75, 48.22,-1.43, 48.82,-1.71, 49.35,1.41, 49.65,2.02, 49.22,-1.81, 49.82,-1.37,
  50.35,1.85, 50.65,1.53, 50.22,-2.07, 50.82,-1.64, 51.35,1.58, 51.65,1.36, 51.22,-1.49, 51.82,-1.84,
  52.35,2.09, 52.65,1.68, 52.22,-1.71, 52.82,-1.45, 53.35,1.47, 53.65,1.91, 53.22,-1.38, 53.82,-1.99,
  54.35,1.73, 54.65,1.44, 54.22,-1.91, 54.82,-1.57, 55.35,1.39, 55.65,1.86, 55.22,-1.62, 55.82,-1.76,
  56.35,1.96, 56.65,1.59, 56.22,-1.45, 56.82,-2.05, 57.35,1.52, 57.65,2.14, 57.22,-1.82, 57.82,-1.51,
  58.35,1.81, 58.65,1.35, 58.22,-1.57, 58.82,-1.68, 59.35,1.66, 59.65,1.78, 59.22,-2.13, 59.82,-1.42,
  60.35,1.43, 60.65,1.97, 60.22,-1.69, 60.82,-1.86, 61.35,2.01, 61.65,1.51, 61.22,-1.4, 61.82,-1.63,
  62.35,1.56, 62.65,1.83, 62.22,-1.88, 62.82,-1.53, 63.35,1.87, 63.65,1.38, 63.22,-1.54, 63.82,-2.01,
  64.35,1.48, 64.65,2.07, 64.22,-1.76, 64.82,-1.44, 65.35,1.71, 65.65,1.55, 65.22,-1.97, 65.82,-1.69,
  66.35,1.94, 66.65,1.42, 66.22,-1.46, 66.82,-1.81, 67.35,1.37, 67.65,1.77, 67.22,-1.64, 67.82,-1.39,
  68.35,1.82, 68.65,1.61, 68.22,-2.04, 68.82,-1.58, 69.35,1.55, 69.65,2.11, 69.22,-1.51, 69.82,-1.92,
  70.35,1.69, 70.65,1.4, 70.22,-1.79, 70.82,-1.47, 71.35,2.05, 71.65,1.63, 71.22,-1.37, 71.82,-1.73,
  72.35,1.44, 72.65,1.89, 72.22,-1.92, 72.82,-1.61, 73.35,1.78, 73.65,1.5, 73.22,-1.59, 73.82,-2.08,
  74.35,1.62, 74.65,1.95, 74.22,-1.75, 74.82,-1.43,
  42.0,3.63, 50.0,3.18, 60.1,2.95, 61.7,2.96, 68.0,2.96, 67.9,2.36, 74.4,2.74, 74.6,2.43,
  40.9,2.74, 43.7,2.69, 44.6,2.5, 40.2,2.48, 46.7,2.63, 46.8,2.56, 52.4,2.46, 54.5,2.53,
  60.6,2.35, 61.5,2.2, 62.6,2.15, 63.2,2.1, 69.8,2.25, 70.2,2.1, 71.7,2.0, 48.5,2.2,
  51.2,2.05, 56.9,2.15, 58.3,2.05, 65.4,2.1,
  51.8,-3.46, 42.9,-2.94, 73.3,-3.01, 51.5,-2.73, 52.0,-2.69, 45.8,-2.79, 48.3,-2.55, 56.6,-2.78,
  57.1,-2.64, 60.9,-2.78, 64.1,-2.74, 62.4,-2.57, 73.9,-2.76, 71.0,-2.8, 41.9,-2.4, 43.5,-2.3,
  43.8,-2.3, 40.5,-2.05, 41.5,-2.0, 44.4,-2.1, 47.2,-2.2, 49.0,-2.15, 53.5,-2.15, 55.1,-2.25,
  58.9,-2.1, 59.6,-2.3, 63.0,-2.2, 66.2,-2.15, 67.5,-2.25, 69.0,-2.2, 70.5,-2.05, 72.2,-2.1,
  74.8,-2.2
];

const strokeCasePts = [
  40.0,0.94, 40.2,-0.47, 40.4,1.21, 40.6,-1.13, 40.8,0.18,
  41.0,-0.71, 41.2,0.63, 41.4,1.58, 41.6,-1.39, 41.8,-0.02,
  42.0,0.82, 42.2,-0.95, 42.4,0.31, 42.6,-1.72, 42.8,1.34,
  43.0,-0.26, 43.2,0.57, 43.4,-1.18, 43.6,1.86, 43.8,-0.53,
  44.0,0.12, 44.2,-1.51, 44.4,1.03, 44.6,-0.37, 44.8,0.74,
  45.0,-0.85, 45.2,1.42, 45.4,-0.09, 45.6,0.66, 45.8,-1.27,
  46.0,0.39, 46.2,-0.62, 46.4,1.19, 46.6,-1.66, 46.8,0.02,
  47.0,0.87, 47.2,-0.31, 47.4,1.51, 47.6,-1.02, 47.8,0.23,
  48.0,-0.58, 48.2,1.11, 48.4,-1.44, 48.6,0.45, 48.8,-0.14,
  49.0,1.64, 49.2,-0.79, 49.4,0.28, 49.6,-1.22, 49.8,0.93,
  50.0,-0.41, 50.2,0.71, 50.4,-1.58, 50.6,1.26, 50.8,0.06,
  51.0,-0.92, 51.2,0.49, 51.4,-0.21, 51.6,1.37, 51.8,-1.09,
  52.0,0.16, 52.2,-0.66, 52.4,1.08, 52.6,-1.35, 52.8,0.59,
  53.0,1.79, 53.2,-0.44, 53.4,0.33, 53.6,-0.97, 53.8,1.15,
  54.0,-1.61, 54.2,0.52, 54.4,-0.12, 54.6,0.98, 54.8,-0.73,
  55.0,0.27, 55.2,1.46, 55.4,-1.25, 55.6,0.64, 55.8,-0.36,
  56.0,1.02, 56.2,-0.83, 56.4,0.11, 56.6,-1.48, 56.8,0.79,
  57.0,-0.18, 57.2,1.32, 57.4,-0.61, 57.6,0.43, 57.8,-1.14,
  58.0,0.69, 58.2,-0.27, 58.4,1.55, 58.6,-0.88, 58.8,0.21,
  59.0,-1.37, 59.2,0.86, 59.4,-0.49, 59.6,1.13, 59.8,-0.04,
  60.0,0.54, 60.2,-1.06, 60.4,1.39, 60.6,-0.32, 60.8,0.75,
  61.0,-0.68, 61.2,0.14, 61.4,1.68, 61.6,-1.21, 61.8,0.37,
  62.0,-0.15, 62.2,0.91, 62.4,-1.53, 62.6,0.48, 62.8,-0.59,
  63.0,1.24, 63.2,-0.84, 63.4,0.19, 63.6,-1.31, 63.8,0.72,
  64.0,-0.43, 64.2,1.47, 64.4,0.03, 64.6,-0.91, 64.8,1.01,
  65.0,-1.19, 65.2,0.58, 65.4,-0.24, 65.6,1.29, 65.8,-0.76,
  66.0,0.34, 66.2,-1.45, 66.4,0.82, 66.6,-0.11, 66.8,1.56,
  67.0,-0.64, 67.2,0.25, 67.4,-1.08, 67.6,1.17, 67.8,-0.29,
  68.0,0.62, 68.2,-0.87, 68.4,1.36, 68.6,-1.62, 68.8,0.09,
  69.0,-0.35, 69.2,1.07, 69.4,-0.78, 69.6,0.44, 69.8,-1.28,
  70.0,0.96, 70.2,-0.19, 70.4,1.61, 70.6,-0.94, 70.8,0.26,
  71.0,-1.41, 71.2,0.68, 71.4,-0.52, 71.6,1.18, 71.8,0.01,
  72.0,-0.83, 72.2,0.35, 72.4,1.43, 72.6,-1.17, 72.8,0.57,
  73.0,-0.27, 73.2,0.89, 73.4,-1.56, 73.6,0.12, 73.8,1.27,
  74.0,-0.65, 74.2,0.46, 74.4,-1.03, 74.6,1.74, 74.8,-0.38,
  75.0,0.81, 75.0,-0.57,
  40.05,-0.29, 40.25,0.65, 40.45,-0.87, 40.65,0.41, 40.85,1.36,
  41.05,0.18, 41.25,-1.04, 41.45,0.87, 41.65,-0.33, 41.85,0.52,
  42.05,-0.58, 42.25,1.23, 42.45,-0.14, 42.65,0.66, 42.85,-1.21,
  43.05,0.79, 43.25,-0.41, 43.45,1.12, 43.65,-0.87, 43.85,0.27,
  44.05,-0.96, 44.25,0.42, 44.45,-0.19, 44.65,1.29, 44.85,-0.64,
  45.05,0.31, 45.25,-0.57, 45.45,0.86, 45.65,-1.33, 45.85,0.13,
  46.05,1.08, 46.25,-0.28, 46.45,0.53, 46.65,-0.91, 46.85,0.74,
  47.05,-0.47, 47.25,0.93, 47.45,-1.18, 47.65,0.24, 47.85,-0.12,
  48.05,0.57, 48.25,-0.76, 48.45,1.38, 48.65,-0.35, 48.85,0.82,
  49.05,-1.09, 49.25,0.36, 49.45,-0.52, 49.65,0.99, 49.85,-0.21,
  50.05,0.68, 50.25,-1.27, 50.45,0.17, 50.65,-0.61, 50.85,1.15,
  51.05,0.28, 51.25,-0.49, 51.45,0.81, 51.65,-0.97, 51.85,0.46,
  52.05,-0.33, 52.25,1.02, 52.45,-0.79, 52.65,0.38, 52.85,-1.42,
  53.05,0.53, 53.25,-0.18, 53.45,0.95, 53.65,-0.64, 53.85,0.09,
  54.05,-0.83, 54.25,1.24, 54.45,-0.36, 54.65,0.61, 54.85,-1.16,
  55.05,0.74, 55.25,-0.09, 55.45,0.43, 55.65,-0.92, 55.85,1.07,
  56.05,-0.51, 56.25,0.29, 56.45,-1.26, 56.65,0.84, 56.85,-0.22,
  57.05,0.47, 57.25,-0.73, 57.45,1.19, 57.65,-0.41, 57.85,0.16,
  58.05,-0.98, 58.25,0.72, 58.45,-0.16, 58.65,0.93, 58.85,-0.54,
  59.05,0.24, 59.25,-1.12, 59.45,0.58, 59.65,-0.29, 59.85,1.32,
  60.05,-0.67, 60.25,0.41, 60.45,-0.03, 60.65,0.87, 60.85,-1.21,
  61.05,0.33, 61.25,-0.84, 61.45,0.97, 61.65,-0.46, 61.85,0.12,
  62.05,-0.72, 62.25,0.56, 62.45,1.27, 62.65,-0.38, 62.85,0.78,
  63.05,-0.27, 63.25,0.34, 63.45,-1.04, 63.65,0.63, 63.85,-0.53,
  64.05,0.92, 64.25,-0.63, 64.45,0.21, 64.65,-1.31, 64.85,0.48,
  65.05,-0.14, 65.25,0.83, 65.45,-0.77, 65.65,0.36, 65.85,1.18,
  66.05,-0.44, 66.25,0.58, 66.45,-1.07, 66.65,0.19, 66.85,-0.61,
  67.05,0.96, 67.25,-0.31, 67.45,0.67, 67.65,-0.89, 67.85,0.04,
  68.05,-0.53, 68.25,0.31, 68.45,-1.35, 68.65,0.77, 68.85,-0.26,
  69.05,1.21, 69.25,-0.46, 69.45,0.18, 69.65,-0.95, 69.85,0.64,
  70.05,-0.37, 70.25,0.89, 70.45,-0.62, 70.65,0.37, 70.85,-1.17,
  71.05,0.53, 71.25,-0.24, 71.45,1.09, 71.65,-0.79, 71.85,0.27,
  72.05,-0.56, 72.25,0.71, 72.45,-0.08, 72.65,1.26, 72.85,-0.94,
  73.05,0.19, 73.25,-0.62, 73.45,0.88, 73.65,-1.29, 73.85,0.35,
  74.05,0.67, 74.25,-0.31, 74.45,1.13, 74.65,-0.86, 74.85,0.07,
  75.0,-1.09, 75.0,0.44,
  40.18,-0.63, 40.52,0.29, 40.78,1.05, 41.18,0.74, 41.52,-0.41, 41.78,-1.18,
  42.18,-0.22, 42.52,0.88, 42.78,0.07, 43.18,0.46, 43.52,-0.96, 43.78,-0.34,
  44.18,1.13, 44.52,-0.17, 44.78,0.58, 45.18,-0.72, 45.52,0.39, 45.78,-0.05,
  46.18,0.81, 46.52,-1.09, 46.78,0.24, 47.18,-0.38, 47.52,0.63, 47.78,1.17,
  48.18,0.12, 48.52,-0.59, 48.78,-0.91, 49.18,0.57, 49.52,1.01, 49.78,-0.26,
  50.18,-0.84, 50.52,0.19, 50.78,0.72, 51.18,0.35, 51.52,-0.68, 51.78,1.14,
  52.18,-1.03, 52.52,0.51, 52.78,-0.14, 53.18,0.69, 53.52,-0.29, 53.78,0.27,
  54.18,-0.47, 54.52,0.92, 54.78,-0.82, 55.18,0.18, 55.52,-1.16, 55.78,0.61,
  56.18,1.07, 56.52,-0.36, 56.78,-0.03, 57.18,-0.61, 57.52,0.44, 57.78,0.87,
  58.18,0.26, 58.52,-0.78, 58.78,-1.21, 59.18,-0.15, 59.52,0.96, 59.78,0.33,
  60.18,0.73, 60.52,-0.51, 60.78,-0.97, 61.18,-0.33, 61.52,0.18, 61.78,1.09,
  62.18,0.55, 62.52,-0.92, 62.78,-0.19, 63.18,-0.76, 63.52,1.16, 63.78,0.41,
  64.18,0.07, 64.52,-0.44, 64.78,0.82, 65.18,-1.12, 65.52,0.62, 65.78,-0.27,
  66.18,0.94, 66.52,-0.13, 66.78,0.36, 67.18,-0.49, 67.52,0.71, 67.78,-0.86,
  68.18,0.31, 68.52,-1.03, 68.78,1.02, 69.18,-0.18, 69.52,0.49, 69.78,-0.64,
  70.18,0.83, 70.52,-0.35, 70.78,0.14, 71.18,-0.91, 71.52,1.12, 71.78,-0.06,
  72.18,0.47, 72.52,-0.24, 72.78,0.79, 73.18,-0.57, 73.52,0.16, 73.78,-1.11,
  74.18,1.04, 74.52,-0.42, 74.78,0.23,
  40.45,1.73, 40.62,-1.58, 41.45,1.46, 41.62,-1.89, 42.45,2.04, 42.62,-1.43, 43.45,1.59, 43.62,-1.76,
  44.45,1.88, 44.62,-2.02, 45.45,1.41, 45.62,-1.55, 46.45,1.67, 46.62,-1.84, 47.45,1.95, 47.62,-1.47,
  48.45,1.53, 48.62,-1.93, 49.45,1.79, 49.62,-1.62, 50.45,1.38, 50.62,-1.78, 51.45,2.09, 51.62,-1.45,
  52.45,1.62, 52.62,-2.06, 53.45,1.47, 53.62,-1.68, 54.45,1.84, 54.62,-1.51, 55.45,1.56, 55.62,-1.94,
  56.45,1.97, 56.62,-1.65, 57.45,1.43, 57.62,-1.81, 58.45,1.75, 58.62,-1.42, 59.45,1.61, 59.62,-2.01,
  60.45,1.92, 60.62,-1.57, 61.45,1.49, 61.62,-1.73, 62.45,1.71, 62.62,-1.87, 63.45,2.03, 63.62,-1.44,
  64.45,1.54, 64.62,-1.96, 65.45,1.83, 65.62,-1.61, 66.45,1.39, 66.62,-1.79, 67.45,1.66, 67.62,-1.49,
  68.45,1.98, 68.62,-2.08, 69.45,1.51, 69.62,-1.66, 70.45,1.77, 70.62,-1.83, 71.45,1.45, 71.62,-1.53,
  72.45,1.89, 72.62,-1.91, 73.45,1.58, 73.62,-1.71, 74.45,2.01, 74.62,-1.48,
  46.6,3.51, 42.2,2.97, 42.2,2.71, 57.8,3.01, 57.7,2.81, 58.6,2.73, 55.8,2.85, 67.9,2.6,
  70.9,2.6, 73.8,2.28, 74.8,2.24, 74.8,2.07, 40.0,2.22, 40.1,2.2, 43.4,2.6, 44.8,2.51,
  46.7,2.54, 47.6,2.47, 53.4,2.3, 64.4,2.43, 65.1,2.36, 70.6,2.2, 61.8,2.1, 56.5,2.0,
  51.0,2.0,
  67.0,-3.53, 44.9,-2.91, 45.0,-2.48, 48.0,-2.52, 57.5,-2.78, 66.7,-2.76, 68.6,-2.57, 63.3,-2.52,
  63.8,-2.52, 74.8,-2.76, 75.0,-2.44, 75.0,-2.0, 73.0,-2.34, 73.9,-2.2, 74.3,-2.31, 69.7,-2.34,
  70.2,-2.3, 61.3,-2.45, 61.5,-2.1, 40.1,-2.15, 40.4,-2.16, 43.5,-2.24, 43.8,-2.24, 49.7,-2.24,
  48.4,-2.52, 52.8,-2.05, 55.6,-2.2, 59.2,-2.1, 65.5,-2.05, 71.4,-2.1
];


/* --- helpers --- */

function pts(xs, ys) {
  return xs.map((x, i) => ({ x, y: ys[i] }));
}

function pairs(flat) {
  const out = [];
  for (let i = 0; i + 1 < flat.length; i += 2) out.push({ x: flat[i], y: flat[i + 1] });
  return out;
}

// Panel letter (A-D) drawn onto each canvas
const panelLetter = {
  id: 'panelLetter',
  afterDraw(chart, args, opts) {
    if (!opts.text) return;
    const ctx = chart.ctx;
    ctx.save();
    ctx.font = 'bold 47px "Open Sans", "DejaVu Sans", sans-serif';
    ctx.fillStyle = '#000';
    ctx.textBaseline = 'alphabetic';
    ctx.fillText(opts.text, opts.x, opts.y);
    ctx.restore();
  }
};

// Thin reference line at PRS = 0 across the plot area
const zeroLine = {
  id: 'zeroLine',
  afterDatasetsDraw(chart, args, opts) {
    if (!opts.show) return;
    const { ctx, chartArea } = chart;
    const y = chart.scales.y.getPixelForValue(0);
    ctx.save();
    ctx.strokeStyle = '#000';
    ctx.lineWidth = 1;
    ctx.beginPath();
    ctx.moveTo(chartArea.left, y);
    ctx.lineTo(chartArea.right, y);
    ctx.stroke();
    ctx.restore();
  }
};

Chart.register(panelLetter, zeroLine);

// ggplot classic-style axis with a fixed box size so the plot area lands where it should
function axis(o) {
  return {
    type: 'linear',
    min: o.min,
    max: o.max,
    afterFit: (s) => {
      if (o.width != null) s.width = o.width;
      if (o.height != null) s.height = o.height;
    },
    border: { display: true, color: '#000', width: 2 },
    grid: { drawOnChartArea: false, drawTicks: true, tickLength: 4, color: '#333', lineWidth: 1 },
    ticks: {
      stepSize: o.step,
      includeBounds: false,
      autoSkip: false,
      maxRotation: 0,
      padding: o.tickPad,
      color: TICK_COLOR,
      font: { family: FONT, size: 16 },
      callback: o.fmt,
    },
    title: {
      display: true,
      text: o.title,
      color: '#000',
      font: { family: FONT, size: 21 },
      padding: o.titlePad,
    },
  };
}

const fmt1 = (v) => v.toFixed(1);
const fmt0 = (v) => String(v);


/* --- Panels A, B: density of PRS by group --- */

function densityChart(id, letter, xTitle, caseDens, ctrlDens, lay) {
  return new Chart(document.getElementById(id), {
    type: 'line',
    data: {
      datasets: [
        {
          data: pts(densX, ctrlDens),
          borderColor: '#000',
          borderWidth: 1.2,
          backgroundColor: 'rgba(130,210,215,0.47)',
          fill: 'origin',
          pointRadius: 0,
          cubicInterpolationMode: 'monotone',
          order: 1,
        },
        {
          data: pts(densX, caseDens),
          borderColor: '#000',
          borderWidth: 1.2,
          backgroundColor: 'rgba(248,118,109,0.3)',
          fill: 'origin',
          pointRadius: 0,
          cubicInterpolationMode: 'monotone',
          order: 2,
        }
      ]
    },
    options: {
      responsive: false,
      animation: false,
      events: [],
      layout: { padding: { top: lay.top, right: lay.right, left: 0, bottom: 0 } },
      plugins: {
        legend: { display: false },
        tooltip: { enabled: false },
        panelLetter: letter,
      },
      scales: {
        x: axis({ min: -5.5, max: 5.5, step: 2.5, fmt: fmt1, title: xTitle,
                  height: lay.xHeight, tickPad: lay.xTickPad, titlePad: { top: 0, bottom: lay.xTitlePad } }),
        y: axis({ min: lay.yMin, max: lay.yMax, step: 0.1, fmt: fmt1, title: 'Density',
                  width: lay.yWidth, tickPad: lay.yTickPad, titlePad: { top: lay.yTitlePad, bottom: 0 } }),
      }
    }
  });
}


/* --- Panels C, D: PRS against age, cases (circles) and controls (triangles) --- */

function scatterChart(id, letter, yTitle, ctrlPts, casePts, trend, lay) {
  return new Chart(document.getElementById(id), {
    type: 'scatter',
    data: {
      datasets: [
        {
          type: 'line',
          data: pts(trendAge, trend),
          borderColor: '#000',
          borderWidth: 3,
          borderDash: [12, 11],
          pointRadius: 0,
          fill: false,
          order: 1,
        },
        {
          data: pairs(casePts),
          pointStyle: 'circle',
          pointRadius: 3.1,
          backgroundColor: RED,
          borderWidth: 0,
          order: 2,
        },
        {
          data: pairs(ctrlPts),
          pointStyle: 'triangle',
          pointRadius: 4.3,
          backgroundColor: CYAN,
          borderWidth: 0,
          order: 3,
        }
      ]
    },
    options: {
      responsive: false,
      animation: false,
      events: [],
      layout: { padding: { top: lay.top, right: lay.right, left: 0, bottom: 0 } },
      plugins: {
        legend: { display: false },
        tooltip: { enabled: false },
        panelLetter: letter,
        zeroLine: { show: true },
      },
      scales: {
        x: axis({ min: 38.25, max: 76.75, step: 10, fmt: fmt0, title: 'Age at Plasma Extraction (years)',
                  height: lay.xHeight, tickPad: lay.xTickPad, titlePad: { top: 0, bottom: lay.xTitlePad } }),
        y: axis({ min: lay.yMin, max: lay.yMax, step: 2, fmt: fmt0, title: yTitle,
                  width: lay.yWidth, tickPad: lay.yTickPad, titlePad: { top: lay.yTitlePad, bottom: 0 } }),
      }
    }
  });
}


densityChart('panel-a', { text: 'A', x: 8, y: 48 }, 'CAD PRS (standardized)', cadCaseDens, cadCtrlDens, {
  top: 2, right: 8.5, yWidth: 121.5, xHeight: 54.3, yMin: -0.0196, yMax: 0.4222,
  xTickPad: -3, yTickPad: 5, xTitlePad: 0.7, yTitlePad: 57.9,
});

densityChart('panel-b', { text: 'B', x: 4, y: 54 }, 'Stroke PRS (standardized)', strokeCaseDens, strokeCtrlDens, {
  top: 2, right: 9.6, yWidth: 89, xHeight: 54.3, yMin: -0.0198, yMax: 0.4273,
  xTickPad: -3, yTickPad: 9, xTitlePad: 0.7, yTitlePad: 24.4,
});

scatterChart('panel-c', { text: 'C', x: 52, y: 35 }, 'CAD PRS (standardized)', cadCtrlPts, cadCasePts, cadTrend, {
  top: 5, right: 0.3, yWidth: 120.8, xHeight: 66.3, yMin: -4.39, yMax: 4.39,
  xTickPad: 4, yTickPad: 6, xTitlePad: 14.4, yTitlePad: 67.4,
});

scatterChart('panel-d', { text: 'D', x: 16, y: 39 }, 'Stroke PRS (standardized)', strokeCtrlPts, strokeCasePts, strokeTrend, {
  top: 17.7, right: 10, yWidth: 81.8, xHeight: 53, yMin: -4.4, yMax: 4.4,
  xTickPad: 3.2, yTickPad: 7, xTitlePad: 1.1, yTitlePad: 27.8,
});
</script>
</body>
</html>
